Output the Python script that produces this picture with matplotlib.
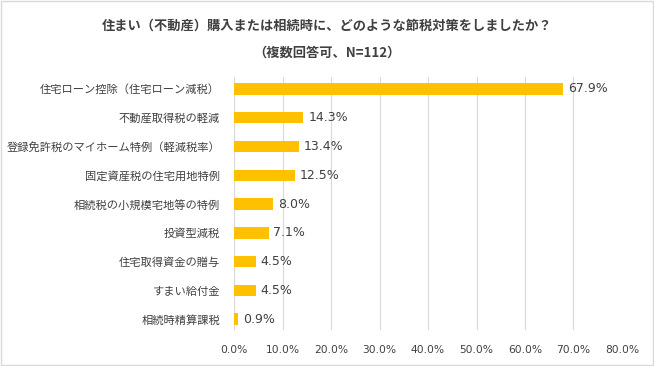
import matplotlib
matplotlib.use("Agg")
import matplotlib.pyplot as plt
from matplotlib.patches import Rectangle

plt.rcParams['font.family'] = ['Noto Sans CJK JP', 'DejaVu Sans']

# data (top to bottom)
categories = [
    "住宅ローン控除（住宅ローン減税）",
    "不動産取得税の軽減",
    "登録免許税のマイホーム特例（軽減税率）",
    "固定資産税の住宅用地特例",
    "相続税の小規模宅地等の特例",
    "投資型減税",
    "住宅取得資金の贈与",
    "すまい給付金",
    "相続時精算課税",
]
values = [67.9, 14.3, 13.4, 12.5, 8.0, 7.1, 4.5, 4.5, 0.9]
xticks = [0, 10, 20, 30, 40, 50, 60, 70, 80]

text_color = "#404040"
bar_color = "#FFC000"

fig = plt.figure(figsize=(6.54, 3.66), dpi=100)
ax = fig.add_axes([0.358, 0.098, 0.593, 0.692])

ypos = list(range(len(categories)))
ax.barh(ypos, values, height=0.4, color=bar_color, zorder=3)
for y, v in zip(ypos, values):
    ax.text(v + 1.0, y, f"{v:.1f}%", va="center", ha="left",
            fontsize=9, color=text_color, family=['DejaVu Sans'])

ax.set_xlim(0, 80)
ax.set_ylim(len(categories) - 0.62, -0.42)
ax.set_xticks(xticks)
ax.set_xticklabels([f"{t:.1f}%" for t in xticks], fontsize=7.7,
                   color=text_color, family=['DejaVu Sans'])
ax.set_yticks(ypos)
ax.set_yticklabels(categories, fontsize=8.1, color=text_color)
ax.tick_params(axis="both", length=0)
ax.tick_params(axis="x", pad=11)
ax.tick_params(axis="y", pad=10)
ax.grid(axis="x", color="#d9d9d9", linewidth=0.8, zorder=0)
for s in ax.spines.values():
    s.set_visible(False)

fig.text(0.5, 0.93, "住まい（不動産）購入または相続時に、どのような節税対策をしましたか？",
         ha="center", va="center", fontsize=9.5, fontweight="bold", color=text_color)
fig.text(0.5, 0.857, "（複数回答可、N=112）",
         ha="center", va="center", fontsize=9.5, fontweight="bold", color=text_color)

fig.patches.append(Rectangle((0.002, 0.003), 0.996, 0.994, transform=fig.transFigure,
                             fill=False, edgecolor="#d9d9d9", linewidth=1))

fig.savefig("out.png", dpi=100)
